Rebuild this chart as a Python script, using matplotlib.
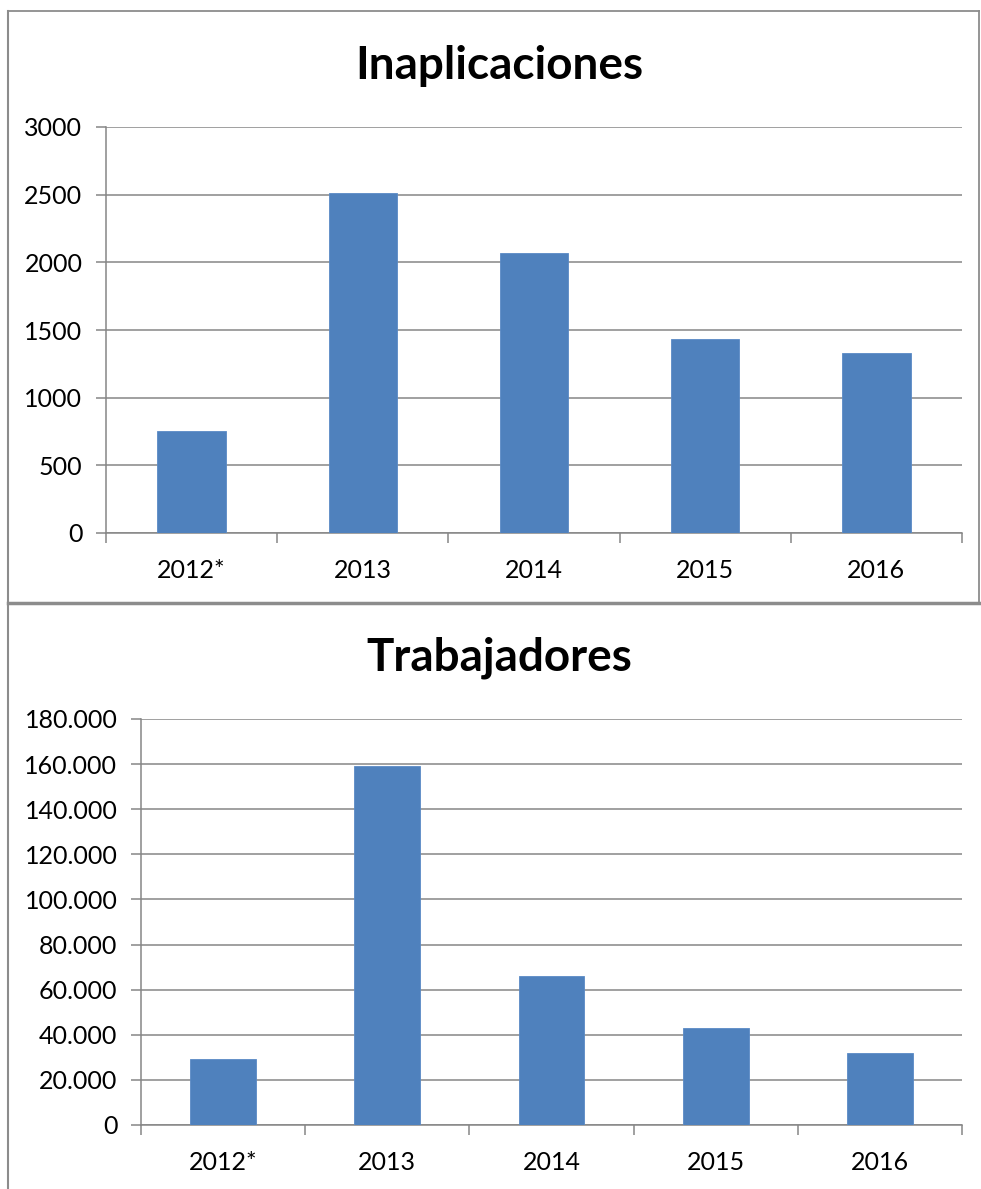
import matplotlib
matplotlib.use("Agg")
import matplotlib.pyplot as plt
from matplotlib.lines import Line2D
from matplotlib.ticker import FuncFormatter, FixedLocator
import numpy as np

categories = ["2012*", "2013", "2014", "2015", "2016"]
inaplicaciones = [752, 2513, 2071, 1437, 1327]
trabajadores = [29200, 159200, 65900, 42900, 31800]
titles = ["Inaplicaciones", "Trabajadores"]

plt.rcParams['font.family'] = ['Lato', 'DejaVu Sans']

W, H = 981, 1189
fig = plt.figure(figsize=(W / 100, H / 100), dpi=100)

BAR = "#4F81BD"
GRID = "#868686"
BORDER = "#8C8C8C"


def fx(px):
    return px / W


def fy(py):
    return 1 - py / H


def make_axes(left, right, top, bottom):
    return fig.add_axes([fx(left), fy(bottom), fx(right) - fx(left), fy(top) - fy(bottom)])


def style(ax, values, ymax, step, fmt, title, title_y):
    x = np.arange(len(categories))
    ax.bar(x, values, width=0.4, color=BAR, edgecolor="#5A8AC6", linewidth=0.6, zorder=3)
    ax.set_xlim(-0.5, len(categories) - 0.5)
    ax.set_ylim(0, ymax)
    ax.set_yticks(np.arange(0, ymax + step / 2, step))
    ax.yaxis.set_major_formatter(FuncFormatter(fmt))
    ax.grid(axis="y", color=GRID, linewidth=1.1, zorder=0)
    ax.set_axisbelow(True)
    for s in ["top", "right"]:
        ax.spines[s].set_visible(False)
    for s in ["left", "bottom"]:
        ax.spines[s].set_color(GRID)
        ax.spines[s].set_linewidth(1.1)
    ax.xaxis.set_major_locator(FixedLocator(np.arange(-0.5, len(categories), 1.0)))
    ax.xaxis.set_minor_locator(FixedLocator(x))
    ax.set_xticklabels([""] * (len(categories) + 1))
    ax.set_xticklabels(categories, minor=True)
    ax.tick_params(axis="x", which="major", length=7, width=1.1, color=GRID, direction="out")
    ax.tick_params(axis="x", which="minor", length=0, pad=19, labelsize=18, labelcolor="black")
    ax.tick_params(axis="y", length=7, width=1.1, color=GRID, labelsize=18, pad=10)
    fig.text(fx(499), fy(title_y), title, ha="center", va="center",
             fontsize=33, fontweight="bold")


def fmt_plain(v, pos):
    return f"{int(v)}"


def fmt_dot(v, pos):
    return f"{int(v):,}".replace(",", ".")


ax1 = make_axes(106, 962, 127, 533)
style(ax1, inaplicaciones, 3000, 500, fmt_plain, titles[0], 66)

ax2 = make_axes(141, 962, 719, 1125)
style(ax2, trabajadores, 180000, 20000, fmt_dot, titles[1], 658)

# panel borders
fig.add_artist(Line2D([fx(8), fx(979)], [fy(11), fy(11)], color=BORDER, linewidth=1.3))
fig.add_artist(Line2D([fx(8), fx(8)], [fy(11), fy(1189)], color=BORDER, linewidth=1.5))
fig.add_artist(Line2D([fx(979), fx(979)], [fy(11), fy(603)], color=BORDER, linewidth=1.3))
fig.add_artist(Line2D([fx(8), fx(981)], [fy(603), fy(603)], color=BORDER, linewidth=2.5))

fig.savefig("out.png", dpi=100, facecolor="white")
